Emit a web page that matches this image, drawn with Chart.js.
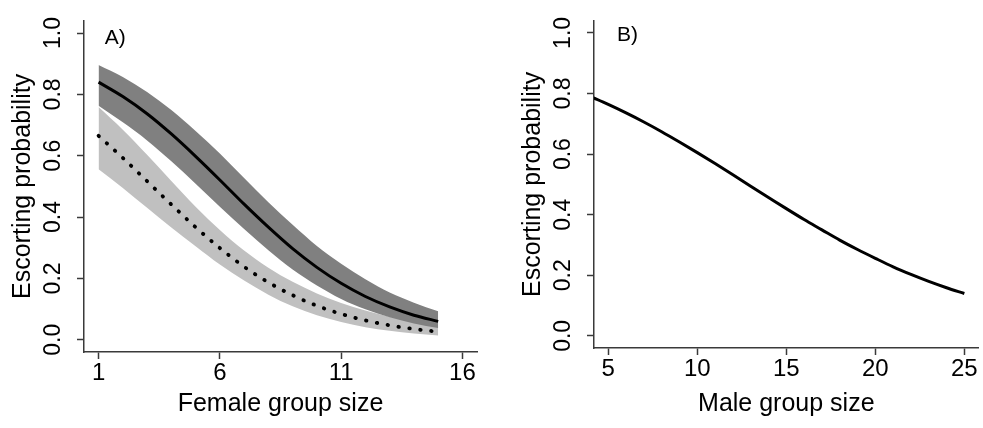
<!DOCTYPE html>
<html>
<head>
<meta charset="utf-8">
<script src="https://cdn.jsdelivr.net/npm/chart.js@4.4.1/dist/chart.umd.min.js"></script>
<style>
  html, body { margin: 0; padding: 0; background: #fff; }
  .panel { position: absolute; top: 0; height: 428px; }
  #panelA { left: 0; width: 490px; }
  #panelB { left: 490px; width: 493px; }
</style>
</head>
<body>
<div class="panel" id="panelA"><canvas id="chartA"></canvas></div>
<div class="panel" id="panelB"><canvas id="chartB"></canvas></div>
<script>
// values
const femaleSize = [1, 2, 3, 4, 5, 6, 7, 8, 9, 10, 11, 12, 13, 14, 15];
const femaleSolid = [0.840, 0.793, 0.737, 0.671, 0.598, 0.521, 0.442, 0.367, 0.297, 0.236, 0.184, 0.141, 0.107, 0.080, 0.060];
const femaleSolidLow = [0.763, 0.709, 0.650, 0.582, 0.509, 0.434, 0.361, 0.292, 0.229, 0.177, 0.133, 0.099, 0.073, 0.053, 0.038];
const femaleSolidHigh = [0.896, 0.857, 0.808, 0.749, 0.681, 0.607, 0.527, 0.448, 0.375, 0.306, 0.248, 0.197, 0.154, 0.121, 0.093];
const femaleDotted = [0.665, 0.593, 0.517, 0.441, 0.367, 0.299, 0.238, 0.187, 0.145, 0.111, 0.084, 0.063, 0.047, 0.035, 0.026];
const femaleDottedLow = [0.556, 0.495, 0.430, 0.366, 0.305, 0.245, 0.193, 0.147, 0.109, 0.080, 0.058, 0.041, 0.029, 0.020, 0.014];
const femaleDottedHigh = [0.759, 0.685, 0.603, 0.518, 0.434, 0.358, 0.291, 0.235, 0.189, 0.151, 0.120, 0.095, 0.075, 0.059, 0.046];

const maleSize = [4, 5, 6, 7, 8, 9, 10, 11, 12, 13, 14, 15, 16, 17, 18, 19, 20, 21, 22, 23, 24, 25];
const maleProb = [0.790, 0.764, 0.736, 0.706, 0.674, 0.640, 0.605, 0.569, 0.532, 0.494, 0.457, 0.420, 0.384, 0.350, 0.316, 0.285, 0.256, 0.228, 0.203, 0.180, 0.159, 0.140];

const femaleTicks = [1, 6, 11, 16];
const maleTicks = [5, 10, 15, 20, 25];
const probTicks = [0, 0.2, 0.4, 0.6, 0.8, 1.0];

const FONT = "'Liberation Sans', Arial, sans-serif";
const AXIS = "#3a3a3a";

function pts(xs, ys) {
  return xs.map((x, i) => ({ x: x, y: ys[i] }));
}

// panel letter, placed in data units
const panelLabel = {
  id: "panelLabel",
  afterDraw(chart, args, opts) {
    const ctx = chart.ctx;
    const x = chart.scales.x.getPixelForValue(opts.x);
    const y = chart.scales.y.getPixelForValue(opts.y);
    ctx.save();
    ctx.font = "21px " + FONT;
    ctx.fillStyle = "#000";
    ctx.textAlign = "left";
    ctx.textBaseline = "alphabetic";
    ctx.fillText(opts.text, x, y);
    ctx.restore();
  },
};

function axes(xMin, xMax, xTicks, xTitle, yWidth, xHeight) {
  return {
    x: {
      type: "linear",
      min: xMin,
      max: xMax,
      afterBuildTicks: (s) => { s.ticks = xTicks.map((v) => ({ value: v })); },
      afterFit: (s) => { s.height = xHeight; },
      border: { display: true, color: AXIS, width: 1.5 },
      grid: { drawOnChartArea: false, drawTicks: true, tickLength: 7, tickColor: AXIS, tickWidth: 1.5 },
      ticks: {
        color: "#000",
        font: { family: FONT, size: 24 },
        padding: 0,
        maxRotation: 0,
        minRotation: 0,
        callback: (v) => String(v),
      },
      title: {
        display: true,
        text: xTitle,
        color: "#000",
        font: { family: FONT, size: 25 },
        padding: { top: 0, bottom: 9 },
      },
    },
    y: {
      type: "linear",
      min: -0.04,
      max: 1.04,
      afterBuildTicks: (s) => { s.ticks = probTicks.map((v) => ({ value: v })); },
      afterFit: (s) => { s.width = yWidth; },
      border: { display: true, color: AXIS, width: 1.5 },
      grid: { drawOnChartArea: false, drawTicks: true, tickLength: 7, tickColor: AXIS, tickWidth: 1.5 },
      ticks: {
        color: "#000",
        font: { family: FONT, size: 23 },
        padding: 7,
        minRotation: 90,
        maxRotation: 90,
        crossAlign: "center",
        callback: (v) => v.toFixed(1),
      },
      title: {
        display: true,
        text: "Escorting probability",
        color: "#000",
        font: { family: FONT, size: 25 },
        padding: { top: 8, bottom: 0 },
      },
    },
  };
}

new Chart(document.getElementById("chartA"), {
  type: "line",
  data: {
    datasets: [
      { data: pts(femaleSize, femaleSolidLow), borderWidth: 0, pointRadius: 0, fill: false, order: 1 },
      { data: pts(femaleSize, femaleSolidHigh), borderWidth: 0, pointRadius: 0, fill: "-1", backgroundColor: "#808080", order: 1 },
      { data: pts(femaleSize, femaleDottedLow), borderWidth: 0, pointRadius: 0, fill: false, order: 2 },
      { data: pts(femaleSize, femaleDottedHigh), borderWidth: 0, pointRadius: 0, fill: "-1", backgroundColor: "#c0c0c0", order: 2 },
      { data: pts(femaleSize, femaleSolid), borderColor: "#000", borderWidth: 3, pointRadius: 0, fill: false, order: 0 },
      {
        data: pts(femaleSize, femaleDotted),
        borderColor: "#000",
        borderWidth: 3.8,
        borderDash: [0.5, 10.5],
        borderCapStyle: "round",
        pointRadius: 0,
        fill: false,
        order: 0,
      },
    ],
  },
  options: {
    responsive: true,
    maintainAspectRatio: false,
    animation: false,
    events: [],
    layout: { padding: { left: 0, right: 13, top: 9, bottom: 0 } },
    elements: { line: { cubicInterpolationMode: "monotone" } },
    plugins: {
      legend: { display: false },
      tooltip: { enabled: false },
      panelLabel: { text: "A)", x: 1.26, y: 0.965 },
    },
    scales: axes(0.4, 16.6, femaleTicks, "Female group size", 84, 76),
  },
  plugins: [panelLabel],
});

new Chart(document.getElementById("chartB"), {
  type: "line",
  data: {
    datasets: [
      { data: pts(maleSize, maleProb), borderColor: "#000", borderWidth: 3, pointRadius: 0, fill: false },
    ],
  },
  options: {
    responsive: true,
    maintainAspectRatio: false,
    animation: false,
    events: [],
    layout: { padding: { left: 20, right: 4.4, top: 12, bottom: 0 } },
    elements: { line: { cubicInterpolationMode: "monotone" } },
    plugins: {
      legend: { display: false },
      tooltip: { enabled: false },
      panelLabel: { text: "B)", x: 5.49, y: 0.974 },
    },
    scales: axes(4.2, 25.8, maleTicks, "Male group size", 84, 80),
  },
  plugins: [panelLabel],
});
</script>
</body>
</html>
